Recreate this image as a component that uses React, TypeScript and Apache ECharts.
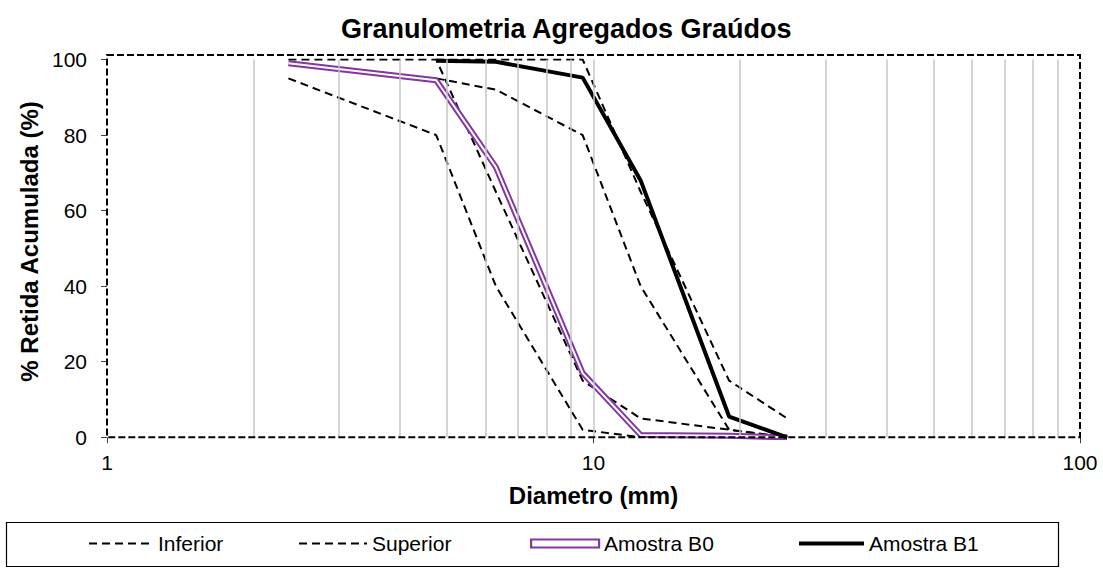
import React, { useEffect, useRef } from "react";
import * as echarts from "echarts";

// Sieve openings (mm)
const sieves = [2.36, 4.75, 6.3, 9.5, 12.5, 19, 25];
// Limits, zone 4.75/12.5
const inferiorZ1 = [95, 80, 40, 2, 0, null, null];
const superiorZ1 = [100, 100, 65, 15, 5, 2, 0];
// Limits, zone 9.5/25
const inferiorZ2 = [null, 95, 92, 80, 40, 2, 0];
const superiorZ2 = [null, 100, 100, 100, 65, 15, 5];
// Samples
const amostraB0 = [99, 94.5, 71.5, 17, 0.6, 0.4, 0];
const amostraB1 = [null, 99.7, 99.4, 95.2, 68, 5.5, 0];
// Vertical gridlines on the log axis
const gridValues = [2, 3, 4, 5, 6, 7, 8, 9, 10, 20, 30, 40, 50, 60, 70, 80, 90];

const FONT = "'Liberation Sans', Arial, sans-serif";
const PURPLE = "#8536A0";

function pairs(vals: (number | null)[]) {
  const out: [number, number][] = [];
  sieves.forEach((d, i) => {
    const v = vals[i];
    if (v !== null && v !== undefined) out.push([d, v]);
  });
  return out;
}

export default function App() {
  const ref = useRef<HTMLDivElement>(null);
  useEffect(() => {
    if (!ref.current) return;
    const chart = echarts.init(ref.current, null, { renderer: "svg" });
    const dashed = { color: "#000", width: 2, type: [8, 5] as number[] };
    const hiddenSymbol = {
      color: "transparent",
      borderColor: "transparent",
      borderWidth: 0,
      opacity: 0,
    };
    const legendBase = {
      top: 533,
      padding: 0,
      itemHeight: 14,
      selectedMode: false,
      textStyle: { fontSize: 21, color: "#000", fontFamily: FONT },
    };
    chart.setOption({
      animation: false,
      backgroundColor: "#fff",
      textStyle: { fontFamily: FONT },
      title: {
        text: "Granulometria Agregados Graúdos",
        left: 341,
        top: 15,
        padding: 0,
        textStyle: { fontSize: 27, fontWeight: "bold", color: "#000", fontFamily: FONT },
      },
      grid: { left: 107, right: 23, top: 59.5, bottom: 130.7, containLabel: false },
      xAxis: {
        type: "log",
        logBase: 10,
        min: 1,
        max: 100,
        name: "Diametro (mm)",
        nameLocation: "middle",
        nameGap: 46,
        nameTextStyle: { fontSize: 24, fontWeight: "bold", color: "#000", fontFamily: FONT },
        axisLine: { show: false },
        axisTick: { show: true, length: 6, lineStyle: { color: "#404040", width: 1 } },
        axisLabel: { fontSize: 21, color: "#000", margin: 15, fontFamily: FONT },
        splitLine: { show: false },
      },
      yAxis: {
        type: "value",
        min: 0,
        max: 100,
        interval: 20,
        name: "% Retida Acumulada (%)",
        nameLocation: "middle",
        nameRotate: 90,
        nameGap: 54,
        nameTextStyle: {
          fontSize: 24,
          fontWeight: "bold",
          color: "#000",
          fontFamily: FONT,
          padding: [0, 0, 0, 14],
        },
        axisLine: { show: false },
        axisTick: { show: true, length: 6, lineStyle: { color: "#404040", width: 1 } },
        axisLabel: { fontSize: 21, color: "#000", margin: 20, fontFamily: FONT },
        splitLine: { show: false },
      },
      legend: [
        {
          ...legendBase,
          left: 88,
          itemWidth: 64,
          data: [{ name: "Inferior", itemStyle: hiddenSymbol }],
        },
        {
          ...legendBase,
          left: 298,
          itemWidth: 68,
          data: [{ name: "Superior", itemStyle: hiddenSymbol }],
        },
        {
          ...legendBase,
          left: 530,
          itemWidth: 68,
          itemHeight: 8,
          data: [
            {
              name: "Amostra B0",
              icon: "rect",
              itemStyle: { color: "#fff", borderColor: PURPLE, borderWidth: 2.2 },
            },
          ],
        },
        {
          ...legendBase,
          left: 797,
          itemWidth: 65,
          data: [
            {
              name: "Amostra B1",
              itemStyle: hiddenSymbol,
              lineStyle: { color: "#000", width: 4 },
            },
          ],
        },
      ],
      graphic: [
        {
          type: "rect",
          z: 100,
          silent: true,
          shape: { x: 107, y: 55, width: 973, height: 382.3 },
          style: { fill: "transparent", stroke: "#000", lineWidth: 2, lineDash: [7, 3] },
        },
        {
          type: "rect",
          z: 100,
          silent: true,
          shape: { x: 6.5, y: 522.5, width: 1052, height: 44 },
          style: { fill: "transparent", stroke: "#000", lineWidth: 1.2 },
        },
      ],
      series: [
        {
          name: "grade",
          type: "line",
          data: [],
          silent: true,
          markLine: {
            silent: true,
            symbol: "none",
            label: { show: false },
            lineStyle: { color: "#c6c6c6", width: 1.5, type: "solid" },
            data: gridValues.map((v) => ({ xAxis: v })),
          },
        },
        { name: "Inferior", type: "line", symbol: "none", data: pairs(inferiorZ1), itemStyle: { color: "#000" }, lineStyle: dashed },
        { name: "Superior", type: "line", symbol: "none", data: pairs(superiorZ1), itemStyle: { color: "#000" }, lineStyle: dashed },
        { name: "Inferior", type: "line", symbol: "none", data: pairs(inferiorZ2), itemStyle: { color: "#000" }, lineStyle: dashed },
        { name: "Superior", type: "line", symbol: "none", data: pairs(superiorZ2), itemStyle: { color: "#000" }, lineStyle: dashed },
        {
          name: "Amostra B0",
          type: "line",
          symbol: "none",
          data: pairs(amostraB0),
          itemStyle: { color: PURPLE },
          lineStyle: { color: PURPLE, width: 6 },
        },
        {
          name: "B0 centro",
          type: "line",
          symbol: "none",
          data: pairs(amostraB0),
          itemStyle: { color: "#fff" },
          lineStyle: { color: "#fff", width: 2 },
        },
        {
          name: "Amostra B1",
          type: "line",
          symbol: "none",
          data: pairs(amostraB1),
          itemStyle: { color: "#000" },
          lineStyle: { color: "#000", width: 4 },
        },
      ],
    });
    return () => chart.dispose();
  }, []);
  return (
    <div
      ref={ref}
      style={{ position: "absolute", left: 0, top: 0, width: 1103, height: 568 }}
    />
  );
}
